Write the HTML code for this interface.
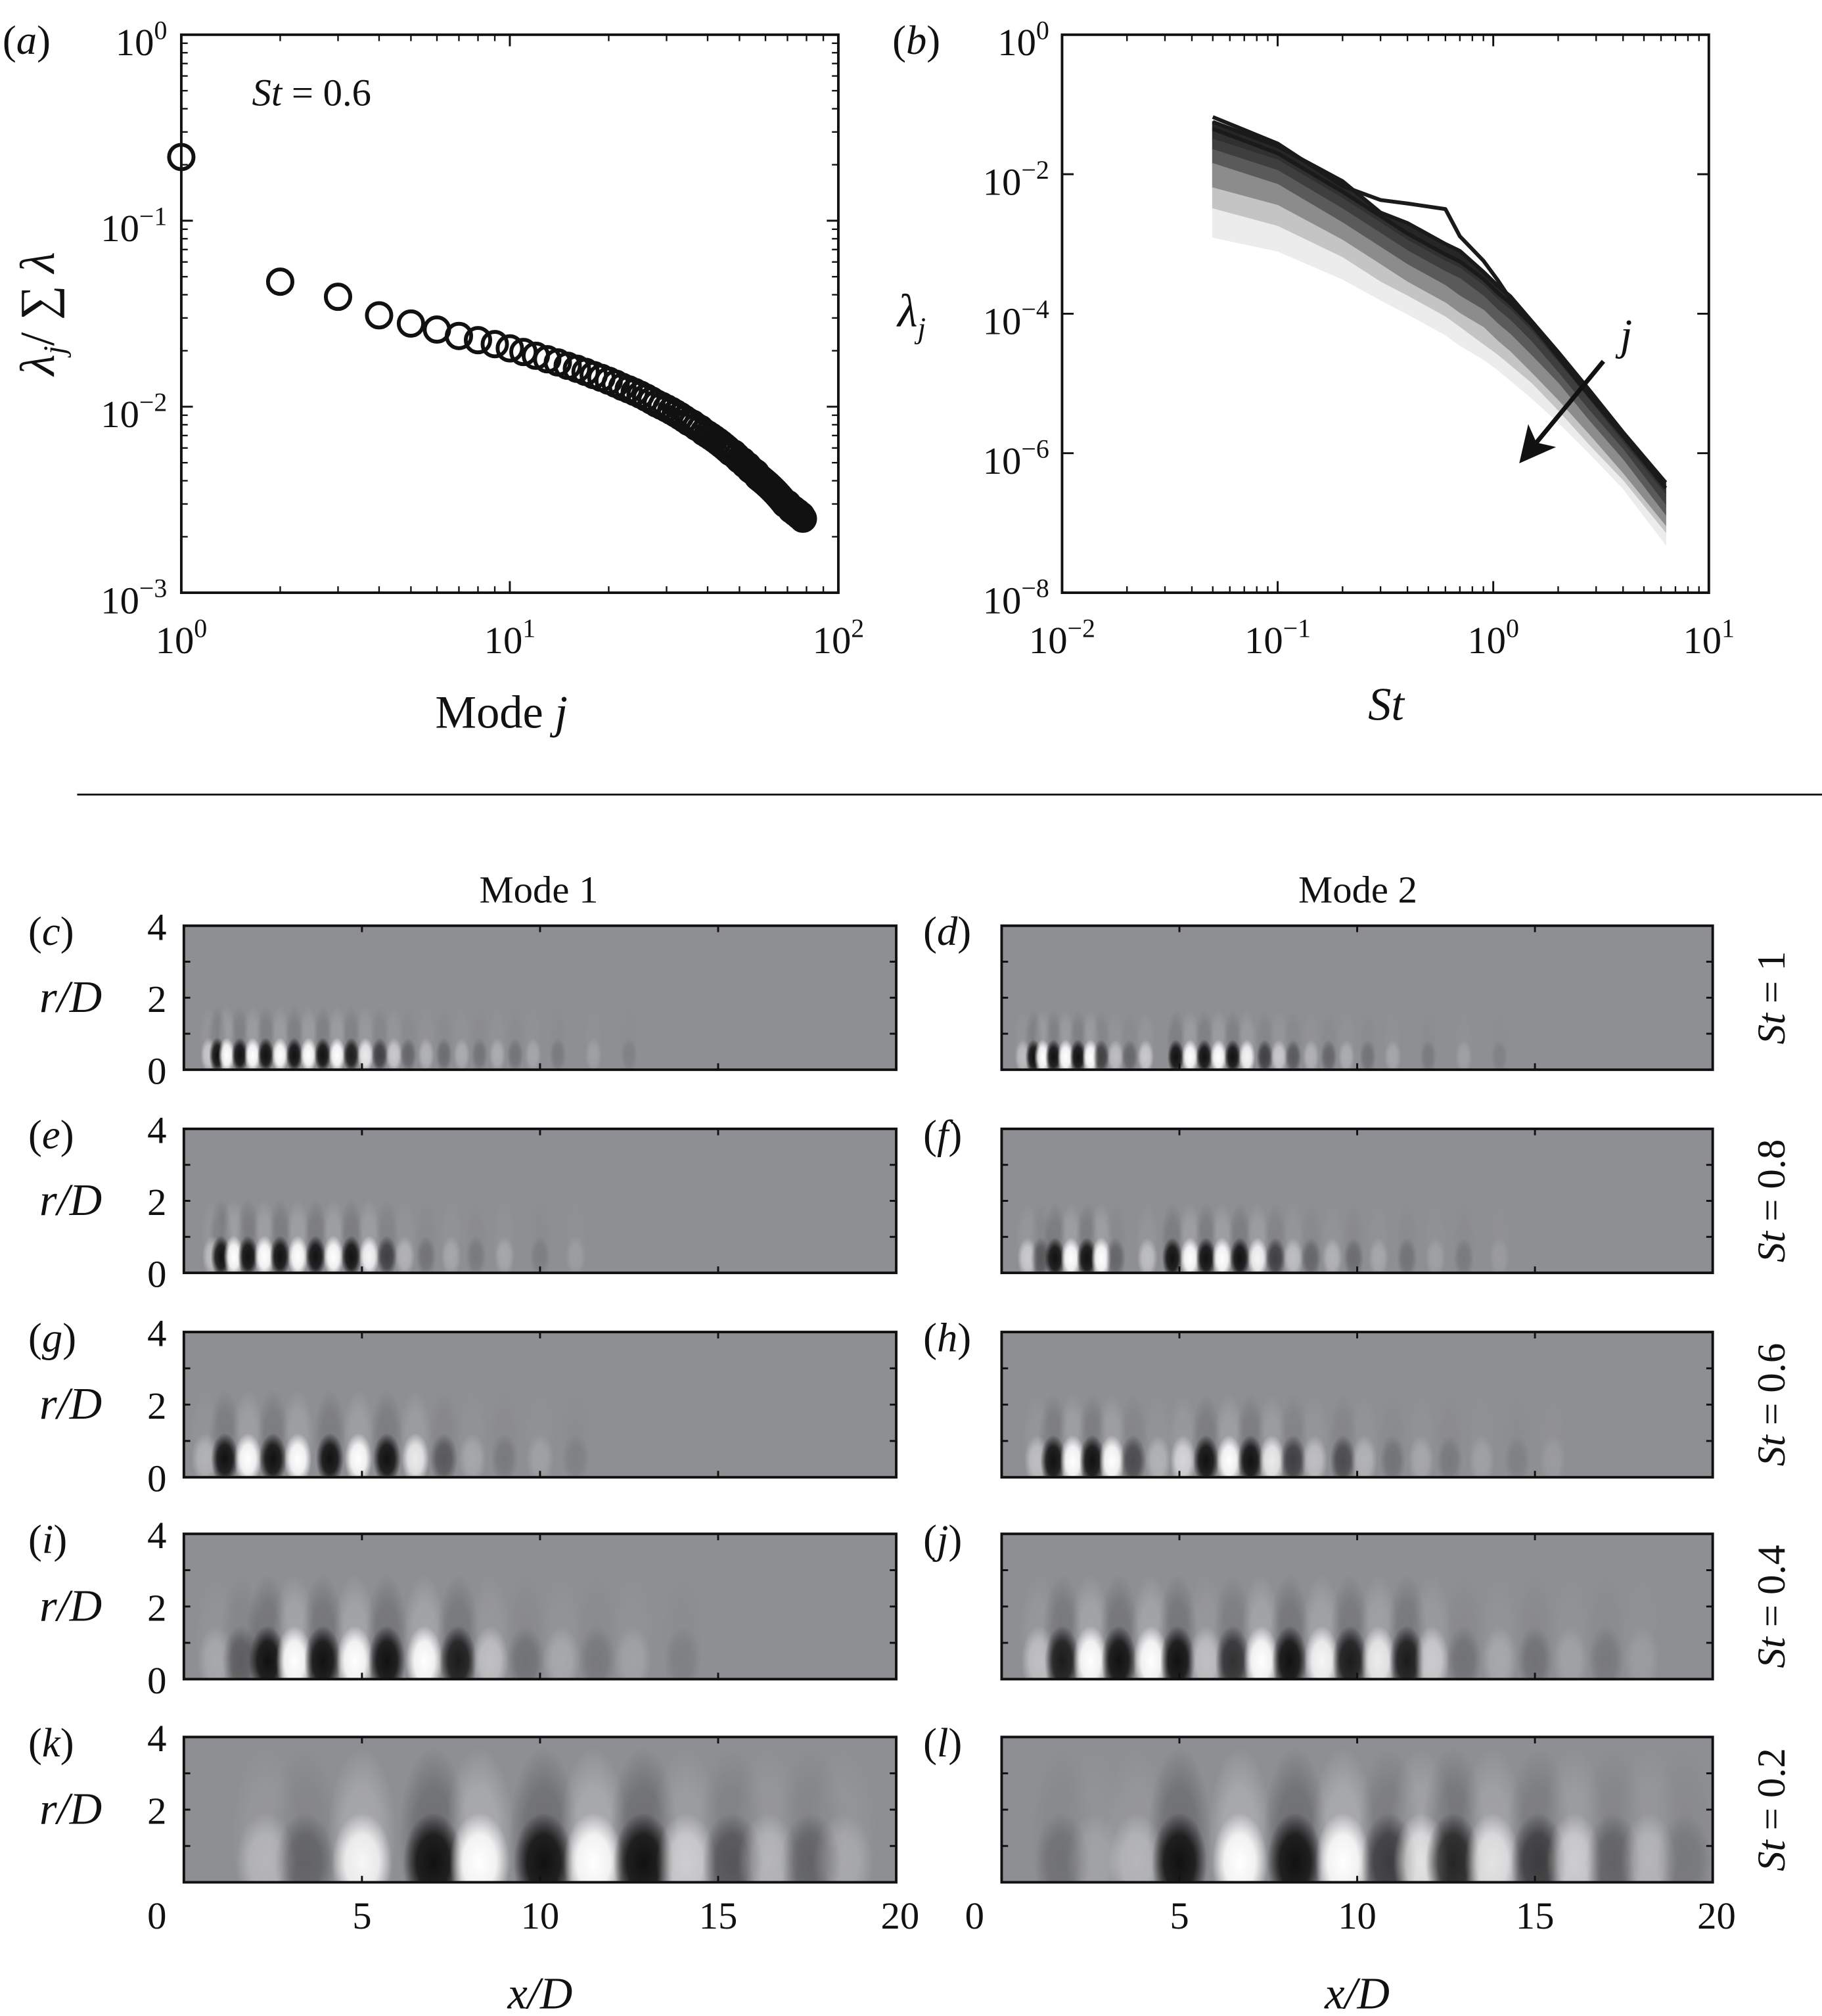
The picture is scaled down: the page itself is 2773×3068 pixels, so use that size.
<!DOCTYPE html>
<html><head><meta charset="utf-8"><style>
html,body{margin:0;padding:0;background:#fff;}
svg{display:block;}
text{font-family:"Liberation Serif","Times New Roman",serif;fill:#111;}
.it{font-style:italic;}
</style></head><body>
<svg id="fig" xmlns="http://www.w3.org/2000/svg" width="2773" height="3068" viewBox="0 0 1417 1568" preserveAspectRatio="none">
<defs>
<radialGradient id="gw"><stop offset="0" stop-color="#fff" stop-opacity="1"/><stop offset="0.55" stop-color="#fff" stop-opacity="0.85"/><stop offset="1" stop-color="#fff" stop-opacity="0"/></radialGradient>
<radialGradient id="gb"><stop offset="0" stop-color="#111" stop-opacity="1"/><stop offset="0.55" stop-color="#111" stop-opacity="0.85"/><stop offset="1" stop-color="#111" stop-opacity="0"/></radialGradient>
<marker id="ah" markerWidth="8" markerHeight="8" refX="6" refY="4" orient="auto" markerUnits="strokeWidth"><path d="M0,0 L8,4 L0,8 L2,4 z" fill="#111"/></marker>
</defs>
</svg>
<script>
// ---------- Panel (a) data ----------
const modeEigen = [0.22,0.047,0.039,0.031,0.028,0.026,0.024,0.0228,0.0217,0.0206,0.0197,0.0188,0.018,0.0173,0.0166,0.016,0.0154,0.0148,0.0143,0.0138,0.0133,0.0128,0.0124,0.012,0.0116,0.0112,0.0108,0.0104,0.0101,0.0098,0.0095,0.0092,0.0089,0.0086,0.0083,0.0081,0.0078,0.0076,0.0073,0.0071,0.0069,0.0067,0.0065,0.0063,0.0061,0.0059,0.0057,0.0056,0.0054,0.0052,0.0051,0.0049,0.0048,0.0046,0.0045,0.0044,0.0042,0.0041,0.004,0.0039,0.0038,0.0037,0.0036,0.0035,0.0034,0.0033,0.0032,0.0031,0.003,0.003,0.0029,0.0028,0.0028,0.0027,0.0027,0.0026,0.0026,0.0025];
const aXTicks = ['0','1','2'];
const aYTicks = ['0','−1','−2','−3'];
// ---------- Panel (b) data (log10 lambda) ----------
const stGrid = [0.05,0.1,0.2,0.3,0.4,0.6,0.7,0.9,1.05,1.2,1.5,2,2.8,4,6.3];
const lamMode1 = [-1.18,-1.56,-2.17,-2.37,-2.42,-2.5,-2.89,-3.24,-3.52,-3.79,-4.14,-4.62,-5.18,-5.75,-6.42];
const lamMode2 = [-1.25,-1.6,-2.1,-2.55,-2.7,-3.0,-3.1,-3.4,-3.6,-3.75,-4.1,-4.55,-5.1,-5.7,-6.42];
const lamMode3 = [-1.35,-1.7,-2.25,-2.6,-2.85,-3.15,-3.25,-3.5,-3.7,-3.85,-4.15,-4.6,-5.15,-5.75,-6.5];
const lamMode5 = [-1.5,-1.8,-2.35,-2.7,-2.95,-3.25,-3.35,-3.6,-3.8,-3.95,-4.25,-4.7,-5.25,-5.85,-6.6];
const lamMode10 = [-1.65,-1.95,-2.5,-2.85,-3.1,-3.4,-3.5,-3.75,-3.95,-4.1,-4.4,-4.85,-5.4,-5.95,-6.75];
const lamMode20 = [-1.85,-2.15,-2.7,-3.05,-3.3,-3.6,-3.75,-3.95,-4.15,-4.3,-4.6,-5.0,-5.55,-6.1,-6.9];
const lamMode40 = [-2.2,-2.45,-2.95,-3.3,-3.55,-3.85,-4.0,-4.2,-4.4,-4.55,-4.85,-5.25,-5.75,-6.3,-7.05];
const lamMode60 = [-2.5,-2.75,-3.2,-3.55,-3.75,-4.05,-4.2,-4.45,-4.6,-4.75,-5.0,-5.4,-5.9,-6.4,-7.15];
const lamMode80 = [-2.9,-3.1,-3.5,-3.8,-4.0,-4.3,-4.45,-4.65,-4.8,-4.95,-5.2,-5.55,-6.0,-6.5,-7.3];
const bXTicks = ['−2','−1','0','1'];
const bYTicks = ['0','−2','−4','−6','−8'];
// ---------- Mode shape blobs: [x/D, signed amplitude] ----------
const blobsC = [[0.7,0.5],[0.94,-1],[1.2,1],[1.57,-1],[1.93,1],[2.3,-1],[2.7,1],[3.1,-1],[3.5,1],[3.9,-1],[4.3,1],[4.7,-0.9],[5.1,0.8],[5.5,-0.6],[5.9,0.5],[6.3,-0.3],[6.8,0.3],[7.3,-0.25],[7.8,0.25],[8.3,-0.2],[8.8,0.25],[9.3,-0.2],[9.8,0.2],[10.5,-0.15],[11.5,0.15],[12.5,-0.1]];
const blobsE = [[0.8,0.4],[1.04,-1],[1.4,1],[1.8,-1],[2.26,1],[2.7,-1],[3.2,1],[3.7,-1],[4.2,1],[4.7,-1],[5.2,0.9],[5.7,-0.6],[6.2,0.3],[6.8,-0.2],[7.5,0.2],[8.2,-0.15],[9,0.2],[10,-0.12],[11,0.12]];
const blobsG = [[0.6,0.3],[1.15,-1],[1.8,1],[2.5,-1],[3.2,1],[4.1,-1],[4.9,1],[5.7,-1],[6.5,0.8],[7.3,-0.4],[8.1,0.2],[9,-0.15],[10,0.15],[11,-0.1]];
const blobsI = [[0.9,0.2],[1.6,-0.35],[2.35,-1],[3.1,1],[3.9,-1],[4.8,1],[5.7,-1],[6.75,1],[7.7,-0.9],[8.6,0.4],[9.6,-0.2],[10.6,0.2],[11.6,-0.15],[12.6,0.15],[14,-0.1]];
const blobsK = [[2.3,0.3],[3.4,-0.3],[5.0,0.9],[7.0,-1],[8.3,1],[10.1,-1],[11.5,1],[12.9,-1],[14.1,0.5],[15.4,-0.4],[16.4,0.3],[17.6,-0.3],[18.5,0.2]];
const blobsD = [[0.6,0.4],[0.9,-1],[1.15,1],[1.46,-1],[1.8,1],[2.15,-1],[2.5,1],[2.8,-0.6],[3.2,0.4],[3.6,-0.3],[4.05,0.5],[4.9,-1],[5.3,1],[5.7,-1],[6.1,1],[6.5,-1],[6.9,0.9],[7.4,-0.6],[7.8,0.5],[8.2,-0.4],[8.7,0.3],[9.2,-0.3],[9.7,0.25],[10.3,-0.2],[11,0.2],[12,-0.15],[13,0.15],[14,-0.1]];
const blobsF = [[0.73,0.5],[1.1,-0.4],[1.5,-1],[1.95,1],[2.4,-1],[2.8,1],[3.2,-0.3],[4.1,0.4],[4.8,-1],[5.3,1],[5.75,-1],[6.2,1],[6.7,-1],[7.2,0.9],[7.7,-0.6],[8.2,0.4],[8.7,-0.3],[9.3,0.3],[9.9,-0.25],[10.6,0.2],[11.4,-0.2],[12.2,0.15],[13,-0.15],[14,0.1]];
const blobsH = [[1.0,0.4],[1.45,-1],[2.0,1],[2.55,-1],[3.1,1],[3.7,-0.5],[4.4,0.3],[5.1,0.6],[5.75,-1],[6.4,1],[7.0,-1],[7.6,0.8],[8.2,-0.6],[8.8,0.4],[9.6,-0.5],[10.2,0.3],[11,-0.2],[11.8,0.2],[12.6,-0.15],[13.5,0.15],[14.5,-0.1],[15.5,0.1]];
const blobsJ = [[1.05,0.4],[1.7,-0.9],[2.5,1],[3.3,-1],[4.2,1],[4.95,-1],[5.75,0.4],[6.5,-0.7],[7.3,1],[8.1,-1],[9.0,0.9],[9.8,-0.9],[10.6,0.8],[11.4,-0.9],[12.1,0.5],[13,-0.2],[14,0.2],[15,-0.2],[16,0.15],[17,-0.15],[18,0.1]];
const blobsL = [[1.7,-0.2],[2.6,0.15],[3.8,0.3],[5.0,-1],[6.7,1],[8.25,-1],[9.6,1],[10.9,-0.6],[11.8,0.7],[12.7,-0.8],[13.8,0.7],[15.1,-0.6],[16.1,0.5],[17.2,-0.3],[18.2,0.3],[19.2,-0.15]];
const xTickLabels = ['0','5','10','15','20'];
const rTickLabels = ['0','2','4'];

const svg = document.getElementById('fig');
const NS = 'http://www.w3.org/2000/svg';
function mk(tag, attrs, parent){
  const e = document.createElementNS(NS, tag);
  for (const k in attrs) e.setAttribute(k, attrs[k]);
  (parent||svg).appendChild(e);
  return e;
}
function sup(parent, base, exp, x, y, size, anchor){
  const t = mk('text', {x:x, y:y, 'font-size':size, 'text-anchor':anchor}, parent);
  t.appendChild(document.createTextNode(base));
  const s = mk('tspan', {dy:-size*0.42, 'font-size':size*0.68}, t);
  s.textContent = exp;
  return t;
}

// ===== Panel (a) =====
const ga = mk('g', {});


const aL=141, aR=652, aT=27, aB=461;
const ax = v => aL + (Math.log10(v) - 0) / 2 * (aR - aL);
const ay = v => aT + (0 - Math.log10(v)) / 3 * (aB - aT);
for (let d=0; d<2; d++) for (let m=2; m<=9; m++){
  const x = ax(m*Math.pow(10,d));
  mk('line',{x1:x,y1:aB,x2:x,y2:aB-5,stroke:'#111','stroke-width':1.2},ga);
  mk('line',{x1:x,y1:aT,x2:x,y2:aT+5,stroke:'#111','stroke-width':1.2},ga);
}
for (let d=-3; d<0; d++) for (let m=2; m<=9; m++){
  const y = ay(m*Math.pow(10,d));
  mk('line',{x1:aL,y1:y,x2:aL+5,y2:y,stroke:'#111','stroke-width':1.2},ga);
  mk('line',{x1:aR,y1:y,x2:aR-5,y2:y,stroke:'#111','stroke-width':1.2},ga);
}
aXTicks.forEach((lab,i)=>{
  const x = ax(Math.pow(10,i));
  mk('line',{x1:x,y1:aB,x2:x,y2:aB-9,stroke:'#111','stroke-width':1.5},ga);
  mk('line',{x1:x,y1:aT,x2:x,y2:aT+9,stroke:'#111','stroke-width':1.5},ga);
  const t = sup(ga,'10',lab,x,508,30,'middle');
  
  
});
aYTicks.forEach((lab,i)=>{
  const y = ay(Math.pow(10,-i));
  mk('line',{x1:aL,y1:y,x2:aL+9,y2:y,stroke:'#111','stroke-width':1.5},ga);
  mk('line',{x1:aR,y1:y,x2:aR-9,y2:y,stroke:'#111','stroke-width':1.5},ga);
  const t = sup(ga,'10',lab,130,y+16,30,'end');
  
  
});
const aFrame = mk('rect',{x:aL,y:aT,width:aR-aL,height:aB-aT,fill:'none',stroke:'#111','stroke-width':2},ga);


modeEigen.forEach((v,i)=>{
  const c = mk('circle',{cx:ax(i+1),cy:ay(v),r:9.5,fill:'none',stroke:'#111','stroke-width':3},ga);
  
  
});
{
  const t = mk('text',{x:2,y:42,'font-size':32},ga); t.innerHTML='(<tspan class="it">a</tspan>)';
   
  const s = mk('text',{x:196,y:82,'font-size':30},ga); s.innerHTML='<tspan class="it">St</tspan> = 0.6';
   
  const xl = mk('text',{x:390,y:566,'font-size':36,'text-anchor':'middle'},ga); xl.innerHTML='Mode <tspan class="it">j</tspan>';
   
  const yl = mk('text',{x:0,y:0,'font-size':38,'text-anchor':'middle',transform:'translate(42,244) rotate(-90)'},ga);
  yl.innerHTML='<tspan class="it">λ</tspan><tspan class="it" dy="8" font-size="24">j</tspan><tspan dy="-8">/ ∑ </tspan><tspan class="it">λ</tspan>';
   
}

// ===== Panel (b) =====
const gb = mk('g', {});


const bL=826, bR=1329, bT=27, bB=461;
const bx = v => bL + (Math.log10(v) + 2) / 3 * (bR - bL);
const by = lg => bT + (0 - lg) / 8 * (bB - bT);
for (let d=-2; d<1; d++) for (let m=2; m<=9; m++){
  const x = bx(m*Math.pow(10,d));
  mk('line',{x1:x,y1:bB,x2:x,y2:bB-5,stroke:'#111','stroke-width':1.2},gb);
  mk('line',{x1:x,y1:bT,x2:x,y2:bT+5,stroke:'#111','stroke-width':1.2},gb);
}
bXTicks.forEach((lab,i)=>{
  const x = bx(Math.pow(10,i-2));
  mk('line',{x1:x,y1:bB,x2:x,y2:bB-9,stroke:'#111','stroke-width':1.5},gb);
  mk('line',{x1:x,y1:bT,x2:x,y2:bT+9,stroke:'#111','stroke-width':1.5},gb);
  const t = sup(gb,'10',lab,x,508,30,'middle');
  
  
});
bYTicks.forEach((lab,i)=>{
  const y = by(-2*i);
  mk('line',{x1:bL,y1:y,x2:bL+9,y2:y,stroke:'#111','stroke-width':1.5},gb);
  mk('line',{x1:bR,y1:y,x2:bR-9,y2:y,stroke:'#111','stroke-width':1.5},gb);
  const t = sup(gb,'10',lab,816,y+16,30,'end');
  
  
});
const bandSeries = [lamMode2,lamMode3,lamMode5,lamMode10,lamMode20,lamMode40,lamMode60,lamMode80];
const bandColors = ['#262626','#303030','#3e3e3e','#5a5a5a','#8c8c8c','#c4c4c4','#ececec'];
for (let k=0;k<bandSeries.length-1;k++){
  const up = bandSeries[k], lo = bandSeries[k+1];
  let pts = stGrid.map((s,i)=>bx(s)+','+by(up[i]));
  pts = pts.concat(stGrid.slice().reverse().map((s,ii)=>{const i=stGrid.length-1-ii; return bx(s)+','+by(lo[i]);}));
  const p = mk('polygon',{points:pts.join(' '),fill:bandColors[k],stroke:bandColors[k],'stroke-width':1},gb);
  
  
}
[lamMode3,lamMode2,lamMode1].forEach((ser,k)=>{
  const d = stGrid.map((s,i)=>(i?'L':'M')+bx(s)+','+by(ser[i])).join(' ');
  const p = mk('path',{d:d,fill:'none',stroke:'#1a1a1a','stroke-width':3,'stroke-linejoin':'round'},gb);
  
  
});
const bFrame = mk('rect',{x:bL,y:bT,width:bR-bL,height:bB-bT,fill:'none',stroke:'#111','stroke-width':2},gb);


{
  const ar = mk('line',{x1:1247,y1:281,x2:1186,y2:355,stroke:'#111','stroke-width':3.5,'marker-end':'url(#ah)'},gb);
   
  const j = mk('text',{x:1260,y:272,'font-size':34,'class':'it'},gb); j.textContent='j';
   
  const t = mk('text',{x:694,y:42,'font-size':32},gb); t.innerHTML='(<tspan class="it">b</tspan>)';
   
  const xl = mk('text',{x:1078,y:560,'font-size':36,'text-anchor':'middle','class':'it'},gb); xl.textContent='St';
   
  const yl = mk('text',{x:698,y:254,'font-size':36,'class':'it'},gb); yl.innerHTML='λ<tspan dy="9" font-size="23">j</tspan>';
   
}

const sep = mk('line',{x1:60,y1:618,x2:1417,y2:618,stroke:'#111','stroke-width':1.5});



// ===== Mode shape panels =====
const colX = [[143,697],[779,1332]];
const rowY = [[720,832],[878,990],[1036,1149],[1193,1306],[1351,1464]];
const stLabels = ['1','0.8','0.6','0.4','0.2'];
const panelDefs = [
 {id:'c',col:0,row:0,blobs:blobsC,rc:0.4,rw:0.38,xw:0.18,halo:0.12},
 {id:'d',col:1,row:0,blobs:blobsD,rc:0.35,rw:0.38,xw:0.18,halo:0.12},
 {id:'e',col:0,row:1,blobs:blobsE,rc:0.45,rw:0.45,xw:0.22,halo:0.15},
 {id:'f',col:1,row:1,blobs:blobsF,rc:0.4,rw:0.45,xw:0.22,halo:0.15},
 {id:'g',col:0,row:2,blobs:blobsG,rc:0.5,rw:0.55,xw:0.3,halo:0.15},
 {id:'h',col:1,row:2,blobs:blobsH,rc:0.45,rw:0.55,xw:0.28,halo:0.15},
 {id:'i',col:0,row:3,blobs:blobsI,rc:0.5,rw:0.75,xw:0.4,halo:0.2},
 {id:'j',col:1,row:3,blobs:blobsJ,rc:0.5,rw:0.75,xw:0.38,halo:0.2},
 {id:'k',col:0,row:4,blobs:blobsK,rc:0.55,rw:1.05,xw:0.65,halo:0.25},
 {id:'l',col:1,row:4,blobs:blobsL,rc:0.55,rw:1.05,xw:0.6,halo:0.25}
];
panelDefs.forEach(pd=>{
  const [L,R] = colX[pd.col], [T,B] = rowY[pd.row];
  const xs = v => L + v/20*(R-L);
  const ys = v => B - v/4*(B-T);
  const g = mk('g',{});
  
  
  const cp = mk('clipPath',{id:'cp'+pd.id},g);
  mk('rect',{x:L,y:T,width:R-L,height:B-T},cp);
  const bg = mk('rect',{x:L,y:T,width:R-L,height:B-T,fill:'#8e8f93'},g);
  
  
  const field = mk('g',{'clip-path':'url(#cp'+pd.id+')'},g);
  pd.blobs.forEach(b=>{
    const e = mk('ellipse',{cx:xs(b[0]),cy:ys(pd.rc*2.2),rx:pd.xw*1.5/20*(R-L),ry:pd.rw*2.4/4*(B-T),
      fill:b[1]>0?'url(#gw)':'url(#gb)','fill-opacity':Math.abs(b[1])*pd.halo},field);
    
    
  });
  pd.blobs.forEach(b=>{
    const e = mk('ellipse',{cx:xs(b[0]),cy:ys(pd.rc),rx:pd.xw*1.3/20*(R-L),ry:pd.rw*1.3/4*(B-T),
      fill:b[1]>0?'url(#gw)':'url(#gb)','fill-opacity':Math.min(1,Math.abs(b[1]))},field);
    
    
  });
  for (let v=5; v<=15; v+=5){
    mk('line',{x1:xs(v),y1:B,x2:xs(v),y2:B-5,stroke:'#111','stroke-width':1.5},g);
    mk('line',{x1:xs(v),y1:T,x2:xs(v),y2:T+5,stroke:'#111','stroke-width':1.5},g);
  }
  for (let v=1; v<=3; v++){
    mk('line',{x1:L,y1:ys(v),x2:L+5,y2:ys(v),stroke:'#111','stroke-width':1.5},g);
    mk('line',{x1:R,y1:ys(v),x2:R-5,y2:ys(v),stroke:'#111','stroke-width':1.5},g);
  }
  const fr = mk('rect',{x:L,y:T,width:R-L,height:B-T,fill:'none',stroke:'#111','stroke-width':2},g);
  
  
  const pl = mk('text',{x:pd.col?718:22,y:T+15,'font-size':32},g);
  pl.innerHTML='(<tspan class="it">'+pd.id+'</tspan>)';
  
  
  if (pd.col===0){
    rTickLabels.forEach((lab,i)=>{
      if (pd.row===4 && i===0) return;
      const t = mk('text',{x:122,y:ys(i*2)+11,'font-size':30,'text-anchor':'middle'},g);
      t.textContent = lab;
      
      
    });
    const rl = mk('text',{x:55,y:(T+B)/2+11,'font-size':35,'text-anchor':'middle','class':'it'},g);
    rl.textContent='r/D';
    
    
  } else {
    const st = mk('text',{x:0,y:0,'font-size':31,'text-anchor':'middle',transform:'translate(1388,'+((T+B)/2)+') rotate(-90)'},g);
    st.innerHTML='<tspan class="it">St</tspan> = '+stLabels[pd.row];
    
    
  }
  if (pd.row===4){
    xTickLabels.forEach((lab,i)=>{
      const x = i===0 ? L-21 : (i===4 ? R+3 : xs(i*5));
      const t = mk('text',{x:x,y:1500,'font-size':30,'text-anchor':'middle'},g);
      t.textContent = lab;
      
      
    });
    const xl = mk('text',{x:(L+R)/2,y:1562,'font-size':35,'text-anchor':'middle','class':'it'},g);
    xl.textContent='x/D';
    
    
  }
  if (pd.row===0){
    const ml = mk('text',{x:pd.col?1056:419,y:702,'font-size':30,'text-anchor':'middle'},g);
    ml.textContent = 'Mode '+(pd.col+1);
    
    
  }
});
</script>
</body></html>
